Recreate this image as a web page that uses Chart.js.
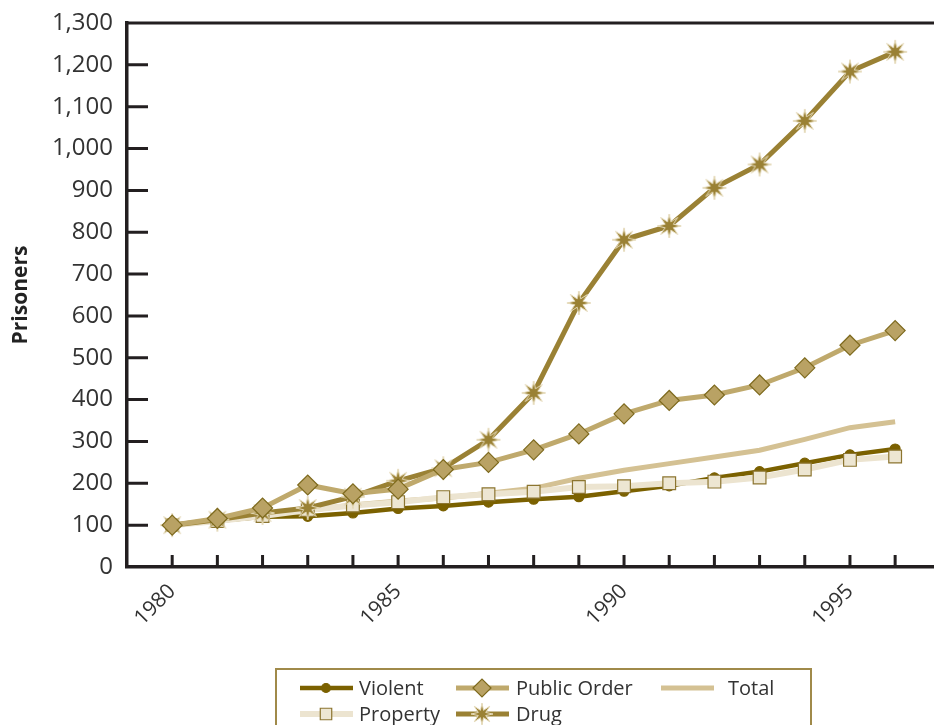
<!DOCTYPE html>
<html>
<head>
<meta charset="utf-8">
<script src="https://cdn.jsdelivr.net/npm/chart.js@4/dist/chart.umd.min.js"></script>
<style>
  html, body { margin: 0; padding: 0; background: #fff; overflow: hidden; }
  #wrap { width: 934px; height: 725px; position: relative; overflow: hidden; }
  canvas { display: block; }
</style>
</head>
<body>
<div id="wrap"><canvas id="prisoners" width="934" height="725"></canvas></div>
<script>
// data (index, 1980 = 100)
const years = [1980,1981,1982,1983,1984,1985,1986,1987,1988,1989,1990,1991,1992,1993,1994,1995,1996];
const violent = [100,110,120,121,129,140,146,155,162,168,181,194,213,228,248,268,282];
const property = [100,110,122,136,147,155,167,174,180,191,193,200,204,214,233,256,264];
const publicOrder = [100,116,141,196,175,186,233,250,280,318,366,398,411,435,476,530,565];
const total = [100,112,125,135,148,158,165,176,188,212,231,247,263,279,305,333,347];
const drug = [100,113,129,141,168,206,236,304,416,631,782,815,906,962,1066,1184,1231];
const labelYears = [1980,1985,1990,1995];
const legendRows = [['Violent','Public Order','Total'],['Property','Drug']];

const FONT = "'Open Sans', 'Noto Sans', sans-serif";
const INK = '#231f20';

function pts(arr){
  return arr.map((v,i) => ({x: years[i], y: v}));
}

// eight-point star marker for Drug
function makeStar(outer, inner, fill, edge){
  const c = document.createElement('canvas');
  const s = Math.ceil(outer*2 + 2);
  c.width = s; c.height = s;
  const g = c.getContext('2d');
  g.beginPath();
  for (let i = 0; i < 16; i++) {
    const r = i % 2 === 0 ? outer : inner;
    const a = -Math.PI/2 + i*Math.PI/8;
    const px = s/2 + r*Math.cos(a), py = s/2 + r*Math.sin(a);
    if (i === 0) g.moveTo(px,py); else g.lineTo(px,py);
  }
  g.closePath();
  g.fillStyle = fill; g.fill();
  g.lineWidth = 1; g.strokeStyle = edge; g.stroke();
  return c;
}
const star = makeStar(12, 4.5, '#9a8134', '#e6dbbb');
const starSmall = makeStar(11, 4, '#9a8134', '#e6dbbb');

const styles = {
  'Violent': {line:'#7b6100', width:4.5, point:'circle', radius:5, bg:'#7b6100', border:'#7b6100'},
  'Property': {line:'#ece4d0', width:6, point:'rect', radius:9, bg:'#ede6d2', border:'#8c7530'},
  'Public Order': {line:'#bfa96c', width:5, point:'rectRot', radius:10, bg:'#b9a264', border:'#7e6a1e'},
  'Total': {line:'#d4c193', width:5, point:null, radius:0},
  'Drug': {line:'#9a8134', width:5, point:star, radius:12, bg:'#9a8134', border:'#9a8134'}
};

function ds(name, arr){
  const s = styles[name];
  return {
    label: name,
    data: pts(arr),
    borderColor: s.line,
    borderWidth: s.width,
    pointStyle: s.point || 'circle',
    pointRadius: s.radius,
    pointHoverRadius: s.radius,
    pointBackgroundColor: s.bg,
    pointBorderColor: s.border,
    pointBorderWidth: 1.2,
    tension: 0,
    clip: false
  };
}

const framePlugin = {
  id: 'frame',
  afterDraw(chart){
    const {ctx, chartArea: a, scales: {x, y}} = chart;
    ctx.save();
    ctx.strokeStyle = INK;
    ctx.lineWidth = 3;
    // top border
    ctx.beginPath();
    ctx.moveTo(a.left, a.top); ctx.lineTo(a.right, a.top);
    ctx.stroke();
    // inside tick marks
    ctx.beginPath();
    years.forEach(yr => {
      const px = x.getPixelForValue(yr);
      ctx.moveTo(px, a.bottom); ctx.lineTo(px, a.bottom - 12);
    });
    for (let v = 100; v < 1300; v += 100) {
      const py = y.getPixelForValue(v);
      ctx.moveTo(a.left, py); ctx.lineTo(a.left + 21, py);
    }
    ctx.stroke();

    // legend box
    const bx = 276, by = 669, bw = 535, bh = 70;
    ctx.strokeStyle = '#a08a4a';
    ctx.lineWidth = 2;
    ctx.strokeRect(bx, by, bw, bh);
    const colX = [[300, 359], [456, 516], [661, 728]];
    const rowY = [688, 714];
    ctx.font = '20px ' + FONT;
    ctx.textBaseline = 'middle';
    legendRows.forEach((row, r) => {
      row.forEach((name, c) => {
        const s = styles[name];
        const [lx, tx] = colX[c];
        const cy = rowY[r];
        ctx.strokeStyle = s.line;
        ctx.lineWidth = s.width;
        ctx.beginPath();
        ctx.moveTo(lx, cy); ctx.lineTo(lx + 53, cy);
        ctx.stroke();
        const mx = lx + 26;
        if (s.point === star) {
          ctx.drawImage(starSmall, mx - starSmall.width/2, cy - starSmall.height/2);
        } else if (s.point) {
          ctx.fillStyle = s.bg;
          ctx.strokeStyle = s.border;
          ctx.lineWidth = 1.2;
          Chart.helpers.drawPoint(ctx, {pointStyle: s.point, rotation: 0, radius: s.radius * 0.9, borderWidth: 1.2}, mx, cy);
        }
        ctx.fillStyle = '#333';
        ctx.fillText(name, tx, cy + 1);
      });
    });
    ctx.restore();
  }
};

new Chart(document.getElementById('prisoners'), {
  type: 'line',
  data: {
    datasets: [
      ds('Public Order', publicOrder),
      ds('Drug', drug),
      ds('Property', property),
      ds('Violent', violent),
      ds('Total', total)
    ]
  },
  options: {
    responsive: false,
    maintainAspectRatio: false,
    animation: false,
    locale: 'en-US',
    layout: { autoPadding: false, padding: { top: 23, right: 0, bottom: 100, left: 0 } },
    plugins: { legend: { display: false }, tooltip: { enabled: false } },
    scales: {
      x: {
        type: 'linear',
        min: 1979,
        max: 1996.86,
        afterFit(scale){
          scale.height = 58;
          scale.paddingLeft = 0;
          scale.paddingRight = 0;
        },
        afterBuildTicks(scale){ scale.ticks = labelYears.map(v => ({value: v})); },
        grid: { display: false, drawTicks: false },
        border: { display: true, color: INK, width: 3.5 },
        ticks: {
          autoSkip: false,
          minRotation: 45,
          maxRotation: 45,
          padding: 12,
          color: '#333',
          font: { family: FONT, size: 21 },
          callback: v => String(v)
        }
      },
      y: {
        min: 0,
        max: 1300,
        afterFit(scale){
          scale.width = 127;
          scale.paddingTop = 0;
          scale.paddingBottom = 0;
        },
        grid: { display: false, drawTicks: false },
        border: { display: true, color: INK, width: 3.5 },
        ticks: {
          stepSize: 100,
          padding: 14,
          color: '#333',
          font: { family: FONT, size: 24 }
        },
        title: {
          display: true,
          text: 'Prisoners',
          color: '#222',
          padding: { top: 8, bottom: 0 },
          font: { family: FONT, size: 21, weight: 'bold' }
        }
      }
    }
  },
  plugins: [framePlugin]
});
</script>
</body>
</html>
